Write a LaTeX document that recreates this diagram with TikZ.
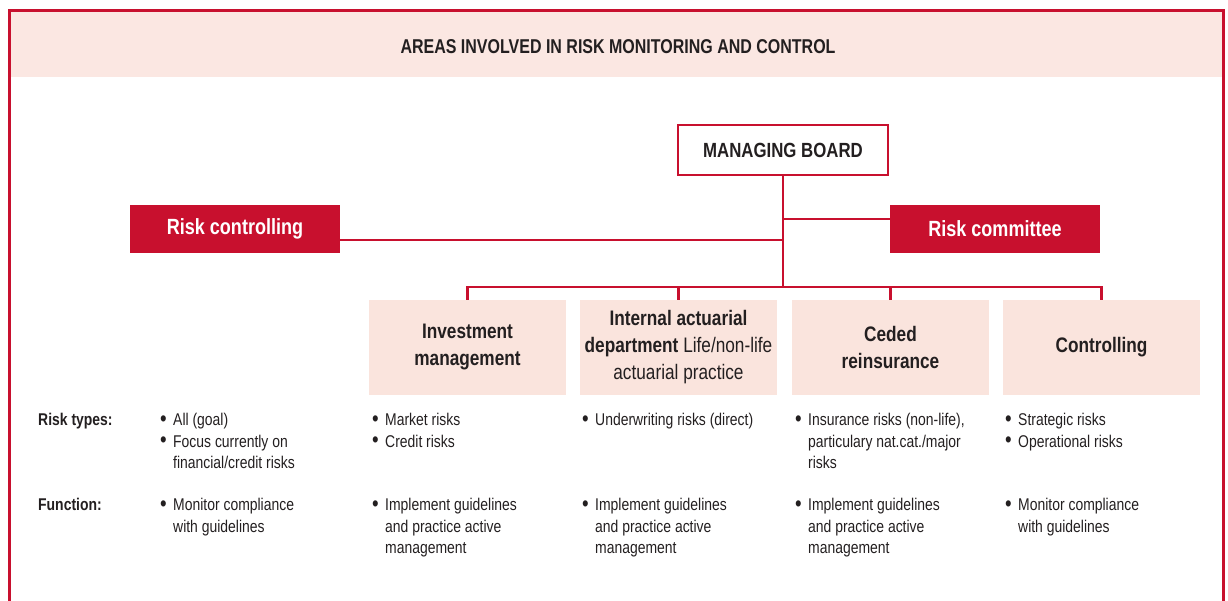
\documentclass[tikz,border=0pt]{standalone}
\usepackage{fontspec}
\setmainfont{Liberation Sans}[FakeStretch=0.82]
\definecolor{hred}{RGB}{200,16,46}
\definecolor{hpink}{RGB}{251,231,226}
\definecolor{boxpink}{RGB}{250,228,221}
\definecolor{txt}{RGB}{35,31,32}
\newcommand\rbul{\makebox[13pt][l]{\raisebox{-0.5pt}{\scalebox{1.35}{\textbullet}}}}
\newcommand\rind{\hspace*{13pt}}
\tikzset{
  redline/.style={hred, line width=2.5pt},
  redbox/.style={fill=hred, text=white, minimum width=210pt, minimum height=48pt,
    font=\fontsize{22}{26}\selectfont\bfseries},
  deptbox/.style={fill=boxpink, text=txt, minimum width=195pt, minimum height=95pt,
    text width=190pt, align=flush center, font=\fontsize{21}{27}\selectfont},
  lst/.style={anchor=north west, inner sep=0pt, align=left, text=txt,
    font=\fontsize{17}{21.5}\selectfont},
  lab/.style={lst, font=\fontsize{17}{21.5}\selectfont\bfseries},
}
\begin{document}
\begin{tikzpicture}[x=1pt, y=-1pt]
      \useasboundingbox (0,0) rectangle (1228,601);
      \fill[hpink] (10,12) rectangle (1222,77);
      \draw[hred, line width=3pt] (9,601) -- (9,11) -- (1223,11) -- (1223,601);
      \node[text=txt, font=\fontsize{20}{22}\selectfont\bfseries] (title) at (618,47) {\addfontfeature{FakeStretch=0.8}AREAS INVOLVED IN RISK MONITORING AND CONTROL};
      \node[draw=hred, line width=2pt, fill=white, text=txt, minimum width=210pt, minimum height=50pt,
        font=\fontsize{20.5}{24}\selectfont\bfseries] (board) at (783,150) {MANAGING BOARD};
      \node[redbox] (riskctl) at (235,229) {Risk controlling};
      \node[redbox] (riskcom) at (995,229) {Risk committee};
      \node[deptbox] (inv) at (467.5,347.5) {\bfseries Investment\\ management};
      \node[deptbox] (act) at (678.5,347.5) {\textbf{Internal actuarial}\\ \textbf{department} Life/non-life\\ actuarial practice};
      \node[deptbox] (ced) at (890.5,347.5) {\bfseries Ceded\\ reinsurance};
      \node[deptbox] (ctl) at (1101.5,347.5) {\bfseries Controlling};
      \coordinate (bus) at (783,287);
      \draw[redline] (board.south) -- (bus);
      \draw[redline] (inv.north) -- (inv.north |- bus) -- (ctl.north |- bus) -- (ctl.north);
      \foreach \d in {act,ced}
      \draw[redline] (\d.north) -- (\d.north |- bus);
      \draw[redline] ([yshift=10pt]riskcom.west) -- ([yshift=10pt]riskcom.west -| bus);
      \draw[redline] ([yshift=-11pt]riskctl.east) -- ([yshift=-11pt]riskctl.east -| bus);
      \node[lab] (rtlab) at (38,413) {Risk types:};
      \node[lab] (fnlab) at (38,498) {Function:};
      \node[lst] (rt1) at (160,413) {\rbul All (goal)\\ \rbul Focus currently on\\ \rind financial/credit risks};
      \node[lst] (rt2) at (372,413) {\rbul Market risks\\ \rbul Credit risks};
      \node[lst] (rt3) at (582,413) {\rbul Underwriting risks (direct)};
      \node[lst] (rt4) at (795,413) {\rbul Insurance risks (non-life),\\ \rind particulary nat.cat./major\\ \rind risks};
      \node[lst] (rt5) at (1005,413) {\rbul Strategic risks\\ \rbul Operational risks};
      \node[lst] (fn1) at (160,498) {\rbul Monitor compliance\\ \rind with guidelines};
      \node[lst] (fn2) at (372,498) {\rbul Implement guidelines\\ \rind and practice active\\ \rind management};
      \node[lst] (fn3) at (582,498) {\rbul Implement guidelines\\ \rind and practice active\\ \rind management};
      \node[lst] (fn4) at (795,498) {\rbul Implement guidelines\\ \rind and practice active\\ \rind management};
      \node[lst] (fn5) at (1005,498) {\rbul Monitor compliance\\ \rind with guidelines};
    \end{tikzpicture}
\end{document}
